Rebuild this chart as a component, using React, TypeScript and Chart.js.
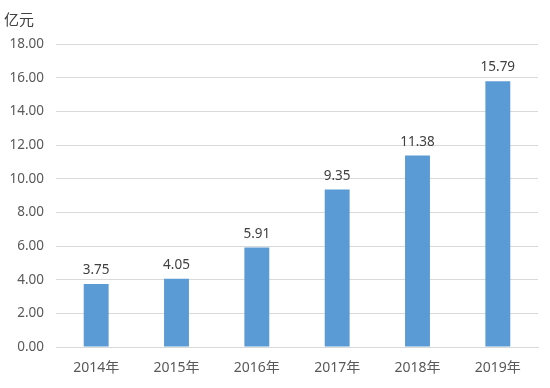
import React, { useEffect, useRef } from "react";
import { Chart, registerables } from "chart.js";

Chart.register(...registerables);

const categories = ["2014年", "2015年", "2016年", "2017年", "2018年", "2019年"];
const values = [3.75, 4.05, 5.91, 9.35, 11.38, 15.79];
const yTicks = [0, 2, 4, 6, 8, 10, 12, 14, 16, 18];
const unitLabel = "亿元";

const FONT = "'Noto Sans', 'Noto Sans CJK SC', sans-serif";

const valueLabels = {
  id: "valueLabels",
  afterDatasetsDraw(chart: any) {
    const ctx = chart.ctx;
    const meta = chart.getDatasetMeta(0);
    ctx.save();
    ctx.font = `13.5px ${FONT}`;
    ctx.fillStyle = "#404040";
    ctx.textAlign = "center";
    ctx.textBaseline = "bottom";
    meta.data.forEach((bar: any, i: number) => {
      ctx.fillText(values[i].toFixed(2), bar.x, bar.y - 7);
    });
    ctx.restore();
  },
};

export default function App() {
  const ref = useRef<HTMLCanvasElement>(null);
  useEffect(() => {
    if (!ref.current) return;
    const chart = new Chart(ref.current, {
      type: "bar",
      data: {
        labels: categories,
        datasets: [
          {
            data: values,
            backgroundColor: "#5B9BD5",
            barPercentage: 0.62,
            categoryPercentage: 0.5,
          },
        ],
      },
      options: {
        animation: false,
        responsive: false,
        maintainAspectRatio: false,
        layout: { padding: { top: 44, right: 12, left: 0, bottom: 0 } },
        plugins: {
          legend: { display: false },
          tooltip: { enabled: false },
        },
        scales: {
          x: {
            grid: { display: false },
            border: { display: true, color: "#D9D9D9" },
            ticks: { color: "#595959", font: { size: 14, family: FONT }, padding: 5 },
            afterFit: (s: any) => {
              s.height = 41;
            },
          },
          y: {
            min: 0,
            max: 18,
            afterBuildTicks: (s: any) => {
              s.ticks = yTicks.map((v) => ({ value: v }));
            },
            grid: { color: "#D9D9D9", drawTicks: false },
            border: { display: false },
            ticks: {
              color: "#595959",
              font: { size: 13.5, family: FONT },
              padding: 12,
              callback: (v: any) => Number(v).toFixed(2),
            },
            afterFit: (s: any) => {
              s.width = 56;
            },
          },
        },
      },
      plugins: [valueLabels],
    });
    return () => chart.destroy();
  }, []);
  return (
    <div style={{ position: "absolute", left: 0, top: 0, width: 550, height: 388, background: "#fff" }}>
      <canvas ref={ref} width={550} height={388} style={{ display: "block" }} />
      <div
        style={{
          position: "absolute",
          left: 4,
          top: 10,
          fontFamily: FONT,
          fontSize: 15,
          color: "#404040",
          lineHeight: "18px",
        }}
      >
        {unitLabel}
      </div>
    </div>
  );
}
